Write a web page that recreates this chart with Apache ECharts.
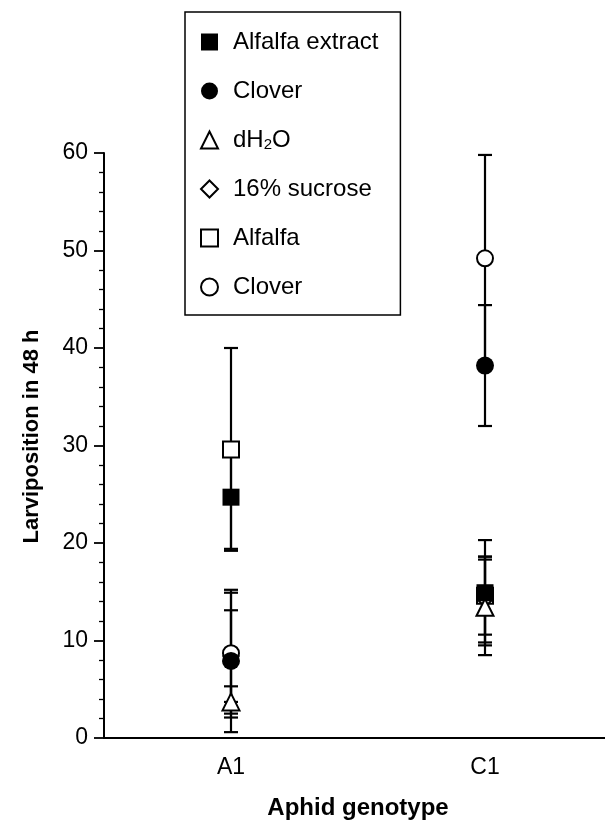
<!DOCTYPE html>
<html>
<head>
<meta charset="utf-8">
<script src="https://cdn.jsdelivr.net/npm/echarts@6/dist/echarts.min.js"></script>
<style>
  html, body { margin: 0; padding: 0; background: #fff; overflow: hidden; }
  #chart { width: 605px; height: 823px; }
</style>
</head>
<body>
<div id="chart"></div>
<script>
// aphid genotypes on the x axis
var genotypes = ['A1', 'C1'];

// means and error (A1, C1)
var alfalfaExtract = [24.7, 14.9];
var alfalfaExtractErr = [5.3, 5.4];
var cloverExtract = [7.9, 38.2];
var cloverExtractErr = [7.3, 6.2];
var water = [3.7, 13.4];
var waterErr = [1.6, 4.9];
var sucrose = [8.4, 14.2];
var sucroseErr = [4.7, 4.4];
var alfalfa = [29.6, 14.6];
var alfalfaErr = [10.4, 4.0];
var clover = [8.7, 49.2];
var cloverErr = [6.2, 10.6];

var FONT = '"Liberation Sans", Arial, sans-serif';

// legend order, marker look and stacking (z) of each treatment
var groups = [
  { name: 'Alfalfa extract', label: 'Alfalfa extract', mean: alfalfaExtract, err: alfalfaExtractErr, symbol: 'rect', size: 17, fill: '#000', z: 6 },
  { name: 'Clover extract', label: 'Clover', mean: cloverExtract, err: cloverExtractErr, symbol: 'circle', size: 18, fill: '#000', z: 7 },
  { name: 'dH2O', label: '{t|dH}{sub|2}{t|O}', mean: water, err: waterErr, symbol: 'triangle', size: 17, fill: '#fff', z: 8 },
  { name: '16% sucrose', label: '16% sucrose', mean: sucrose, err: sucroseErr, symbol: 'diamond', size: 15, fill: '#fff', z: 4 },
  { name: 'Alfalfa', label: 'Alfalfa', mean: alfalfa, err: alfalfaErr, symbol: 'rect', size: 16, fill: '#fff', z: 3 },
  { name: 'Clover', label: 'Clover', mean: clover, err: cloverErr, symbol: 'circle', size: 16, fill: '#fff', z: 5 }
];

function renderErrorBar(params, api) {
  var x = api.value(0);
  var hi = api.coord([x, api.value(2)]);
  var lo = api.coord([x, api.value(1)]);
  var half = 7;
  function st() { return { stroke: '#000', lineWidth: 2.2 }; }
  return {
    type: 'group',
    children: [
      { type: 'line', shape: { x1: hi[0], y1: hi[1], x2: lo[0], y2: lo[1] }, style: st() },
      { type: 'line', shape: { x1: hi[0] - half, y1: hi[1], x2: hi[0] + half, y2: hi[1] }, style: st() },
      { type: 'line', shape: { x1: lo[0] - half, y1: lo[1], x2: lo[0] + half, y2: lo[1] }, style: st() }
    ]
  };
}

var series = [];
groups.forEach(function (g) {
  series.push({
    name: g.name,
    type: 'scatter',
    z: g.z,
    symbol: g.symbol,
    symbolSize: g.size,
    itemStyle: { color: g.fill, borderColor: '#000', borderWidth: g.fill === '#fff' ? 2 : 0, opacity: 1 },
    emphasis: { disabled: true },
    data: genotypes.map(function (c, i) { return [c, g.mean[i]]; })
  });
});
groups.forEach(function (g) {
  series.push({
    name: g.name,
    type: 'custom',
    z: 2,
    renderItem: renderErrorBar,
    encode: { x: 0, y: [1, 2] },
    silent: true,
    data: genotypes.map(function (c, i) { return [i, g.mean[i] - g.err[i], g.mean[i] + g.err[i]]; })
  });
});

var labelMap = {};
groups.forEach(function (g) { labelMap[g.name] = g.label; });

var chart = echarts.init(document.getElementById('chart'), null, { renderer: 'canvas' });
chart.setOption({
  animation: false,
  backgroundColor: '#fff',
  textStyle: { fontFamily: FONT, color: '#000' },
  // plot runs off the right edge like the scanned figure
  grid: { left: 104, width: 508, top: 153, bottom: 85, containLabel: false, outerBoundsMode: 'none' },
  legend: {
    orient: 'vertical',
    left: 185,
    top: 12,
    padding: [18, 22, 16, 15],
    itemGap: 25,
    itemWidth: 17,
    itemHeight: 17,
    borderColor: '#000',
    borderWidth: 1.5,
    borderRadius: 0,
    selectedMode: false,
    data: groups.map(function (g) { return g.name; }),
    formatter: function (name) { return labelMap[name]; },
    textStyle: {
      fontFamily: FONT, fontSize: 24, color: '#000', lineHeight: 24, padding: [0, 0, 0, 10],
      rich: {
        t: { fontFamily: FONT, fontSize: 24, color: '#000', lineHeight: 24 },
        sub: { fontFamily: FONT, fontSize: 15, color: '#000', verticalAlign: 'bottom', lineHeight: 14 }
      }
    }
  },
  xAxis: {
    type: 'category',
    data: genotypes,
    boundaryGap: true,
    name: 'Aphid genotype',
    nameLocation: 'middle',
    nameGap: 58,
    nameTextStyle: { fontFamily: FONT, fontSize: 24, fontWeight: 'bold', color: '#000' },
    axisLine: { lineStyle: { color: '#000', width: 2 } },
    axisTick: { alignWithLabel: true, length: 10, lineStyle: { color: '#000', width: 1.8 } },
    axisLabel: { fontFamily: FONT, fontSize: 23, color: '#000', margin: 18 },
    splitLine: { show: false }
  },
  yAxis: {
    type: 'value',
    min: 0,
    max: 60,
    interval: 10,
    name: 'Larviposition in 48 h',
    nameLocation: 'middle',
    nameGap: 61,
    nameTextStyle: { fontFamily: FONT, fontSize: 22, fontWeight: 'bold', color: '#000', padding: [0, 0, 0, 18] },
    axisLine: { show: true, lineStyle: { color: '#000', width: 2 } },
    axisTick: { show: true, length: 10, lineStyle: { color: '#000', width: 1.8 } },
    minorTick: { show: true, splitNumber: 5, length: 5, lineStyle: { color: '#000', width: 1.3 } },
    axisLabel: { fontFamily: FONT, fontSize: 23, color: '#000', margin: 16 },
    splitLine: { show: false },
    minorSplitLine: { show: false }
  },
  series: series
});
</script>
</body>
</html>
